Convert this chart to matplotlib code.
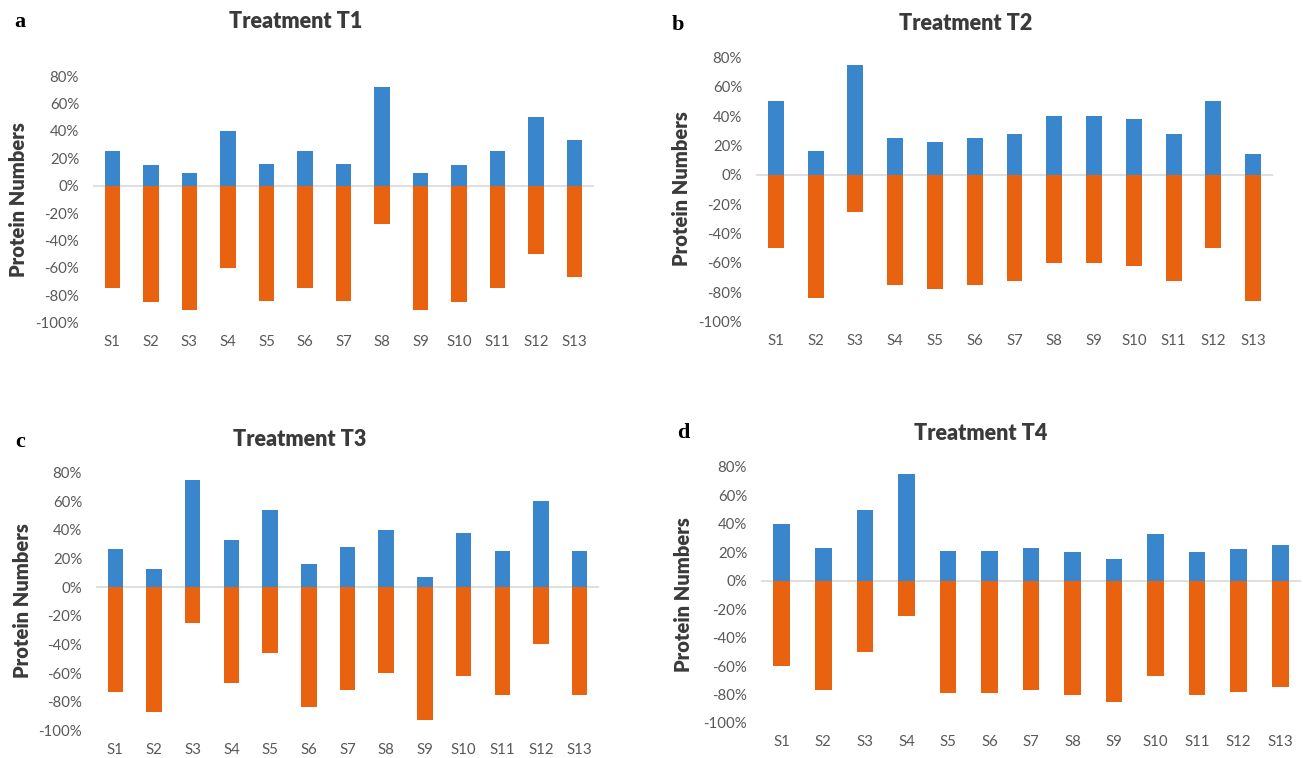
import matplotlib
matplotlib.use("Agg")
import matplotlib.pyplot as plt
from matplotlib.ticker import FuncFormatter
import numpy as np

# Sample labels shared by all four treatments
samples = ["S1", "S2", "S3", "S4", "S5", "S6", "S7", "S8", "S9", "S10", "S11", "S12", "S13"]

# Share of proteins (%) per sample: positive (blue) and negative (orange) parts
t1_up = [25, 15, 9, 40, 16, 25, 16, 72, 9, 15, 25, 50, 33]
t1_down = [-75, -85, -91, -60, -84, -75, -84, -28, -91, -85, -75, -50, -67]

t2_up = [50, 16, 75, 25, 22, 25, 28, 40, 40, 38, 28, 50, 14]
t2_down = [-50, -84, -25, -75, -78, -75, -72, -60, -60, -62, -72, -50, -86]

t3_up = [27, 13, 75, 33, 54, 16, 28, 40, 7, 38, 25, 60, 25]
t3_down = [-73, -87, -25, -67, -46, -84, -72, -60, -93, -62, -75, -40, -75]

t4_up = [40, 23, 50, 75, 21, 21, 23, 20, 15, 33, 20, 22, 25]
t4_down = [-60, -77, -50, -25, -79, -79, -77, -80, -85, -67, -80, -78, -75]

titles = ["Treatment T1", "Treatment T2", "Treatment T3", "Treatment T4"]
letters = ["a", "b", "c", "d"]
y_ticks = [80, 60, 40, 20, 0, -20, -40, -60, -80, -100]

BLUE = "#3A86CC"
ORANGE = "#E8620F"
TICK_GREY = "#595959"
TEXT_DARK = "#3A3A3A"

plt.rcParams["font.family"] = ["Lato", "DejaVu Sans"]
plt.rcParams["axes.unicode_minus"] = False

W, H = 1303, 758
fig = plt.figure(figsize=(W / 100, H / 100), dpi=100)
fig.patch.set_facecolor("white")


def px_rect(x0, x1, ytop, ybot):
    return [x0 / W, 1 - ybot / H, (x1 - x0) / W, (ybot - ytop) / H]


# Axes boxes (pixels): left, right, top (80%), bottom (-100%)
boxes = [
    (93, 594, 76, 322.7),
    (756, 1273, 57.3, 321.7),
    (96, 599, 472.7, 730.3),
    (761, 1301, 467, 723),
]
title_pos = [(296, 21), (966, 23), (300, 439), (981, 433)]
letter_pos = [(20, 22), (678, 25), (20, 442), (683, 433)]
ylabel_pos = [(19, 200), (681, 189), (23, 601), (683, 595)]

ups = [t1_up, t2_up, t3_up, t4_up]
downs = [t1_down, t2_down, t3_down, t4_down]

x = np.arange(len(samples))

for i in range(4):
    ax = fig.add_axes(px_rect(*boxes[i]))
    ax.bar(x, ups[i], width=0.4, color=BLUE, zorder=2)
    ax.bar(x, downs[i], width=0.4, color=ORANGE, zorder=2)
    ax.axhline(0, color="#D9D9D9", lw=1.2, zorder=1)

    ax.set_xlim(-0.5, len(samples) - 0.5)
    ax.set_ylim(-100, 80)
    ax.set_yticks(y_ticks)
    ax.yaxis.set_major_formatter(FuncFormatter(lambda v, p: f"{v:.0f}%"))
    ax.set_xticks(x)
    ax.set_xticklabels(samples)
    ax.tick_params(axis="both", length=0, labelsize=10.8, colors=TICK_GREY)
    ax.tick_params(axis="y", pad=10)
    ax.tick_params(axis="x", pad=9)
    for s in ax.spines.values():
        s.set_visible(False)
    ax.set_facecolor("none")

    fig.text(title_pos[i][0] / W, 1 - title_pos[i][1] / H, titles[i],
             ha="center", va="center", fontsize=15.5, fontweight="heavy",
             color=TEXT_DARK)
    fig.text(letter_pos[i][0] / W, 1 - letter_pos[i][1] / H, letters[i],
             ha="center", va="center", fontsize=16, fontweight="bold",
             family="Liberation Serif", color="black")
    fig.text(ylabel_pos[i][0] / W, 1 - ylabel_pos[i][1] / H, "Protein Numbers",
             ha="center", va="center", rotation=90, fontsize=14.5,
             fontweight="heavy", color=TEXT_DARK)

fig.savefig("out.png", dpi=100, facecolor="white")
